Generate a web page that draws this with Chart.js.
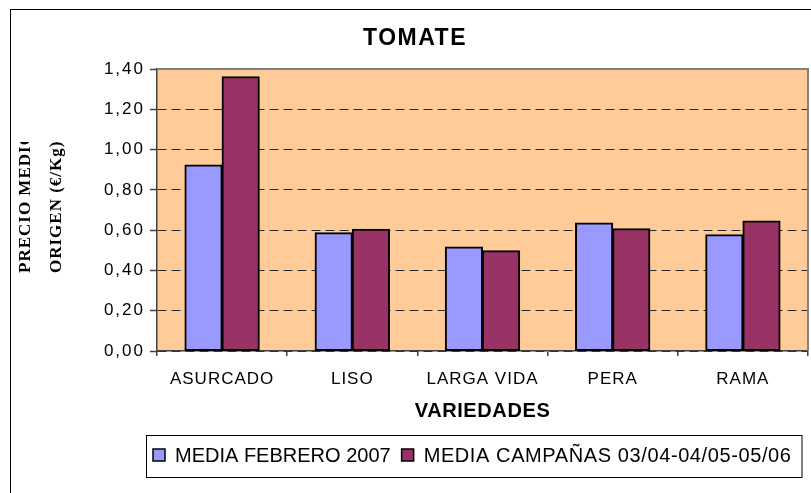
<!DOCTYPE html>
<html>
<head>
<meta charset="utf-8">
<script src="https://cdn.jsdelivr.net/npm/chart.js@4"></script>
<style>
  html, body { margin: 0; padding: 0; background: #ffffff; }
  canvas { display: block; }
</style>
</head>
<body>
<canvas id="c" width="811" height="493"></canvas>
<script>
const chartTitle = 'TOMATE';
const xAxisTitle = 'VARIEDADES';
const yAxisTitleLines = ['PRECIO MEDIO', 'ORIGEN (€/Kg)'];
const categories = ['ASURCADO', 'LISO', 'LARGA VIDA', 'PERA', 'RAMA'];
const seriesNames = ['MEDIA FEBRERO 2007', 'MEDIA CAMPAÑAS 03/04-04/05-05/06'];
const mediaFebrero2007 = [0.923, 0.587, 0.516, 0.635, 0.577];
const mediaCampanas = [1.362, 0.605, 0.498, 0.607, 0.646];
const yTickLabels = ['0,00', '0,20', '0,40', '0,60', '0,80', '1,00', '1,20', '1,40'];

const SANS = '"Liberation Sans", Arial, sans-serif';
const SERIF = '"Liberation Serif", "Times New Roman", serif';
const colors = ['#9999FF', '#993366'];

function wrapSpacing(scale, fn, sp) {
  const key = '_sp_' + fn;
  if (scale[key]) return;
  const orig = scale[fn];
  scale[fn] = function (...args) {
    const c = this.ctx;
    c.save();
    c.letterSpacing = sp;
    orig.apply(this, args);
    c.restore();
  };
  scale[key] = true;
}

const decorPlugin = {
  id: 'decor',
  beforeDraw(chart) {
    const ctx = chart.ctx;
    const a = chart.chartArea;
    wrapSpacing(chart.scales.x, 'drawLabels', '1px');
    wrapSpacing(chart.scales.x, 'drawTitle', '0.6px');
    wrapSpacing(chart.scales.y, 'drawLabels', '2px');
    ctx.save();
    ctx.fillStyle = '#ffffff';
    ctx.fillRect(0, 0, chart.width, chart.height);
    ctx.fillStyle = '#FFCC99';
    ctx.fillRect(a.left, a.top, a.right - a.left, a.bottom - a.top);
    ctx.restore();
  },
  afterDraw(chart) {
    const ctx = chart.ctx;
    const a = chart.chartArea;
    ctx.save();
    // outer chart frame
    ctx.strokeStyle = '#000000';
    ctx.lineWidth = 1;
    ctx.strokeRect(10.5, 9.5, 1000, 1000);
    // plot area frame (top and right)
    ctx.strokeStyle = '#808080';
    ctx.lineWidth = 2;
    ctx.beginPath();
    ctx.moveTo(a.left, a.top);
    ctx.lineTo(a.right, a.top);
    ctx.lineTo(a.right, a.bottom);
    ctx.stroke();

    // title
    ctx.fillStyle = '#000000';
    ctx.font = 'bold 23px ' + SANS;
    ctx.letterSpacing = '1.5px';
    ctx.textAlign = 'center';
    ctx.textBaseline = 'alphabetic';
    ctx.fillText(chartTitle, 415, 45);

    // y axis title (two rotated lines, first one clipped)
    ctx.font = 'bold 17px ' + SERIF;
    ctx.letterSpacing = '1px';
    ctx.textAlign = 'left';
    ctx.textBaseline = 'middle';
    ctx.save();
    ctx.beginPath();
    ctx.rect(0, 142, 150, 300);
    ctx.clip();
    ctx.translate(26, 273);
    ctx.rotate(-Math.PI / 2);
    ctx.fillText(yAxisTitleLines[0], 0, 0);
    ctx.restore();
    ctx.save();
    ctx.translate(57, 273);
    ctx.rotate(-Math.PI / 2);
    ctx.fillText(yAxisTitleLines[1], 0, 0);
    ctx.restore();

    // legend
    ctx.font = '20px ' + SANS;
    ctx.textAlign = 'left';
    ctx.textBaseline = 'alphabetic';
    let x = 153;
    const sq = 12, sqTop = 449, base = 462;
    const spacings = ['0px', '0.6px'];
    chart.data.datasets.forEach((ds, i) => {
      ctx.letterSpacing = '0px';
      ctx.fillStyle = ds.backgroundColor;
      ctx.fillRect(x, sqTop, sq, sq);
      ctx.strokeStyle = '#000000';
      ctx.lineWidth = 1.5;
      ctx.strokeRect(x, sqTop, sq, sq);
      ctx.fillStyle = '#000000';
      ctx.letterSpacing = spacings[i];
      ctx.fillText(ds.label, x + sq + 10, base);
      x = x + sq + 10 + ctx.measureText(ds.label).width + 11;
    });
    ctx.letterSpacing = '0px';
    ctx.strokeStyle = '#000000';
    ctx.lineWidth = 1;
    ctx.strokeRect(146.5, 435.5, x - 146 - 1, 42);
    ctx.restore();
  }
};

new Chart(document.getElementById('c'), {
  type: 'bar',
  data: {
    labels: categories,
    datasets: [
      { label: seriesNames[0], data: mediaFebrero2007, backgroundColor: colors[0],
        borderColor: '#000000', borderWidth: 2, borderSkipped: false, inflateAmount: 0.5 },
      { label: seriesNames[1], data: mediaCampanas, backgroundColor: colors[1],
        borderColor: '#000000', borderWidth: 2, borderSkipped: false, inflateAmount: 0.5 }
    ]
  },
  options: {
    responsive: false,
    animation: false,
    devicePixelRatio: 1,
    layout: { padding: { left: 0, top: 69, right: 3, bottom: 0 } },
    datasets: { bar: { categoryPercentage: 0.571, barPercentage: 1.0 } },
    plugins: {
      legend: { display: false },
      title: { display: false },
      tooltip: { enabled: false }
    },
    scales: {
      x: {
        afterFit(s) { s.height = 142; },
        grid: { display: true, drawOnChartArea: false, drawTicks: true, tickLength: 5,
                tickColor: '#404040', lineWidth: 1.5, offset: true },
        border: { display: true, color: '#404040', width: 1.5 },
        ticks: { color: '#000000', padding: 13, maxRotation: 0, autoSkip: false,
                 font: { family: SANS, size: 17 } },
        title: { display: true, text: xAxisTitle, color: '#000000',
                 font: { family: SANS, size: 20, weight: 'bold' },
                 padding: { top: 4, bottom: 70 } }
      },
      y: {
        min: 0, max: 1.4,
        afterFit(s) { s.width = 157; },
        afterBuildTicks(s) {
          s.ticks = yTickLabels.map((_, i) => ({ value: Math.round(i * 0.2 * 100) / 100 }));
        },
        grid: { display: true, drawOnChartArea: true, drawTicks: true, tickLength: 7,
                color: '#2a2a2a', lineWidth: 1, tickColor: '#404040', tickWidth: 1.5 },
        border: { display: true, color: '#404040', width: 1.5, dash: [9, 5] },
        ticks: {
          color: '#000000', padding: 5,
          font: { family: SANS, size: 17 },
          callback: (v, i) => yTickLabels[i]
        }
      }
    }
  },
  plugins: [decorPlugin]
});
</script>
</body>
</html>
